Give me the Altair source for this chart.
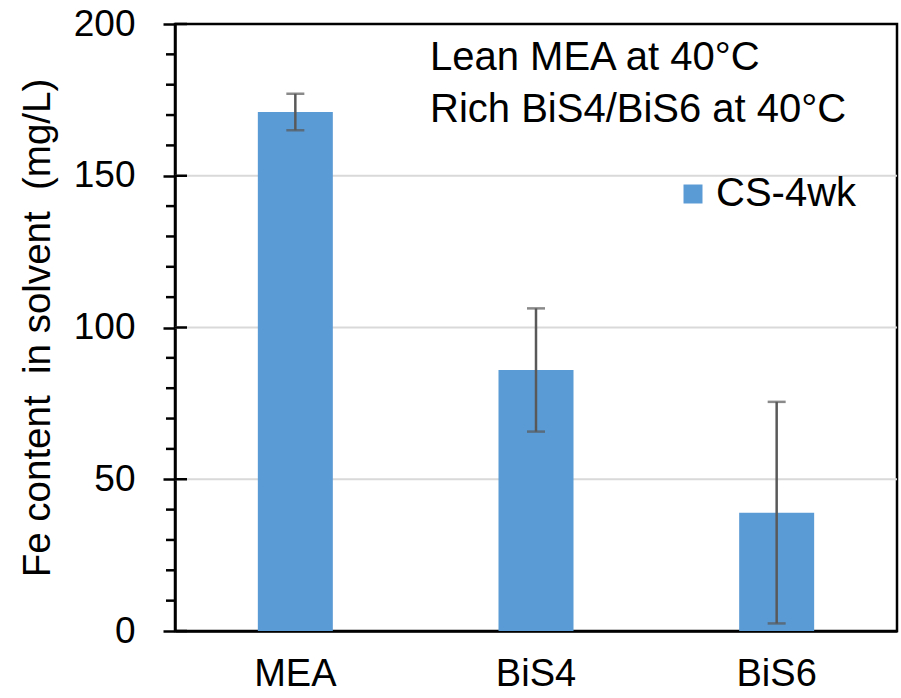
import altair as alt
import pandas as pd

# Fe content measured in each solvent after 4 weeks (carbon steel coupons)
solvents = ["MEA", "BiS4", "BiS6"]
fe_mean = [171.0, 86.0, 39.0]
fe_err = [6.0, 20.3, 36.5]
series = ["CS-4wk", "CS-4wk", "CS-4wk"]

major_ticks = [0, 50, 100, 150, 200]
minor_ticks = [v for v in range(10, 200, 10) if v % 50 != 0]
grid_lines = [50, 100, 150]
notes = ["Lean MEA at 40\u00b0C", "Rich BiS4/BiS6 at 40\u00b0C"]

FONT = "Liberation Sans"
BAR = "#5b9bd5"
ERR = "#595959"

df = pd.DataFrame({
    "solvent": solvents,
    "fe": fe_mean,
    "lo": [m - e for m, e in zip(fe_mean, fe_err)],
    "hi": [m + e for m, e in zip(fe_mean, fe_err)],
    "series": series,
})

x_scale = alt.Scale(paddingInner=0.69, paddingOuter=0.345)
y_scale = alt.Scale(domain=[0, 200], nice=False)

x_axis = alt.Axis(
    title=None, labelAngle=0, labelFontSize=38, labelFont=FONT,
    labelColor="black", labelPadding=24, ticks=False,
    domainColor="black", domainWidth=2.5,
)
y_axis = alt.Axis(
    values=major_ticks, title="Fe content\u00a0 in solvent\u00a0 (mg/L)",
    titleFontSize=38.5, titleFont=FONT, titleFontWeight="normal",
    titleColor="black", titlePadding=16,
    labelFontSize=37, labelFont=FONT, labelColor="black",
    labelPadding=28, tickSize=12, tickWidth=2.5, tickColor="black",
    domainColor="black", domainWidth=2.5, grid=False,
)


def xe():
    return alt.X("solvent:N", sort=solvents, scale=x_scale, axis=x_axis)


def ye(field):
    return alt.Y(field, scale=y_scale, axis=y_axis)


grid = alt.Chart(pd.DataFrame({"v": grid_lines})).mark_rule(
    color="#d9d9d9", strokeWidth=2
).encode(y=ye("v:Q"))

bars = alt.Chart(df).mark_bar(size=75).encode(
    x=xe(),
    y=ye("fe:Q"),
    color=alt.Color(
        "series:N",
        scale=alt.Scale(domain=["CS-4wk"], range=[BAR]),
        legend=alt.Legend(
            title=None, orient="none", legendX=498, legendY=150,
            symbolType="square", symbolSize=361, symbolStrokeWidth=0,
            labelFontSize=40, labelFont=FONT, labelColor="black",
            labelOffset=3, padding=0,
        ),
    ),
)

err_rule = alt.Chart(df).mark_rule(color=ERR, strokeWidth=2.5).encode(
    x=xe(), y=ye("lo:Q"), y2="hi:Q"
)
err_lo = alt.Chart(df).mark_tick(color=ERR, thickness=2.5, size=18).encode(
    x=xe(), y=ye("lo:Q")
)
err_hi = alt.Chart(df).mark_tick(color=ERR, thickness=2.5, size=18).encode(
    x=xe(), y=ye("hi:Q")
)

# inner half of the major ticks and the short outer minor ticks
inner_ticks = alt.Chart(pd.DataFrame({"v": major_ticks})).mark_rule(
    color="black", strokeWidth=2.5
).encode(y=ye("v:Q"), x=alt.value(0), x2=alt.value(12))
minor = alt.Chart(pd.DataFrame({"v": minor_ticks})).mark_rule(
    color="black", strokeWidth=2.5
).encode(y=ye("v:Q"), x=alt.value(-9), x2=alt.value(0))

note_text = alt.Chart(pd.DataFrame({"k": [0]})).mark_text(
    align="left", baseline="alphabetic", fontSize=40, font=FONT, color="black",
    lineHeight=52, text=notes,
).encode(x=alt.value(255), y=alt.value(46))

chart = alt.layer(
    grid, bars, err_rule, err_lo, err_hi, inner_ticks, minor, note_text
).properties(
    width=722, height=607,
    autosize=alt.AutoSizeParams(type="none"),
    padding={"left": 175, "top": 24, "right": 4, "bottom": 67},
).configure(
    background="white",
    view=alt.ViewConfig(stroke="black", strokeWidth=2.5),
)

chart.save("out.html", embed_options={"renderer": "svg", "actions": False})
